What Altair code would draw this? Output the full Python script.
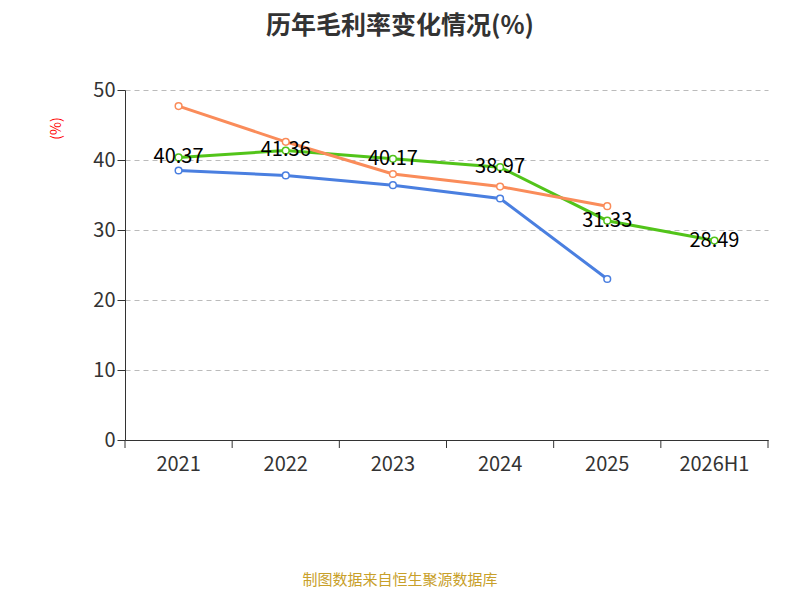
import altair as alt
import pandas as pd

# Chart data
YEARS = ["2021", "2022", "2023", "2024", "2025", "2026H1"]
SERIES = ["公司毛利率", "行业均值", "行业中位数"]
COMPANY = [40.37, 41.36, 40.17, 38.97, 31.33, 28.49]
IND_MEAN = [38.5, 37.8, 36.4, 34.5, 23.0]
IND_MEDIAN = [47.7, 42.6, 38.0, 36.2, 33.4]
COLORS = ["#52c41a", "#4a7fe0", "#fa8c5a"]
FONT = "Noto Sans CJK SC"

rows = []
for name, vals in zip(SERIES, [COMPANY, IND_MEAN, IND_MEDIAN]):
    for y, v in zip(YEARS, vals):
        rows.append({"year": y, "series": name, "value": v})
DATA = pd.DataFrame(rows)
COMPANY_DATA = DATA[DATA["series"] == SERIES[0]]

x_enc = alt.X("year:N", sort=YEARS, scale=alt.Scale(domain=YEARS),
              axis=alt.Axis(title=None, ticks=False, labelFontSize=20, labelColor="#333",
                            labelPadding=14, labelAngle=0, domainColor="#333", labelFont=FONT))
y_enc = alt.Y("value:Q", scale=alt.Scale(domain=[0, 50]),
              axis=alt.Axis(title="(%)", titleColor="red", titleFontSize=14, titleFontWeight="normal",
                            titleX=-62, titleY=38, titleFont=FONT, values=[0, 10, 20, 30, 40, 50],
                            labelOverlap=False, labelFontSize=20, labelColor="#333", labelFont=FONT,
                            domainColor="#333", tickColor="#333", tickSize=8, gridDash=[5, 4],
                            gridColor="#bbb"))
scale = alt.Scale(domain=SERIES, range=COLORS)
legend = alt.Legend(title=None, orient="none", direction="horizontal",
                    legendX=0, legendY=438, labelFontSize=20, labelColor="#333",
                    labelFont=FONT, columnPadding=22, symbolSize=700,
                    symbolStrokeWidth=2, symbolFillColor="white",
                    symbolType="M-1,0L-0.45,0M0.45,0L1,0M0.45,0A0.45,0.45 0 1,1 -0.45,0A0.45,0.45 0 1,1 0.45,0")

base = alt.Chart(DATA)
lines = base.mark_line(strokeWidth=3).encode(
    x=x_enc, y=y_enc, color=alt.Color("series:N", scale=scale, legend=None))
points = base.mark_point(filled=False, fill="white", size=45, strokeWidth=1.5, opacity=1).encode(
    x="year:N", y="value:Q", color=alt.Color("series:N", scale=scale, legend=legend))
labels = alt.Chart(COMPANY_DATA).mark_text(fontSize=20, color="black", font=FONT, baseline="middle").encode(
    x="year:N", y="value:Q", text=alt.Text("value:Q", format=".2f"))

ticks = alt.Chart(pd.DataFrame({"year": YEARS})).mark_rule(color="#333").encode(
    x=alt.X("year:N", bandPosition=0), y=alt.value(350), y2=alt.value(358))
last_tick = alt.Chart(pd.DataFrame({"year": YEARS[-1:]})).mark_rule(color="#333").encode(
    x=alt.X("year:N", bandPosition=1), y=alt.value(350), y2=alt.value(358))

title = alt.Chart(pd.DataFrame({"t": ["历年毛利率变化情况(%)"]})).mark_text(
    fontSize=25, fontWeight="bold", color="#333", font=FONT).encode(
    x=alt.value(275), y=alt.value(-64), text="t:N")
source = alt.Chart(pd.DataFrame({"t": ["制图数据来自恒生聚源数据库"]})).mark_text(
    fontSize=15, color="#c8a02a", font=FONT).encode(
    x=alt.value(275), y=alt.value(490), text="t:N")

chart = alt.layer(lines, points, labels, ticks, last_tick, title, source).properties(
    width=643, height=350,
    autosize=alt.AutoSizeParams(type="none"),
    padding={"left": 117, "top": 82, "right": 24, "bottom": 152},
).configure_view(stroke=None)

chart.save("out.html", embed_options={"renderer": "svg", "actions": False})
